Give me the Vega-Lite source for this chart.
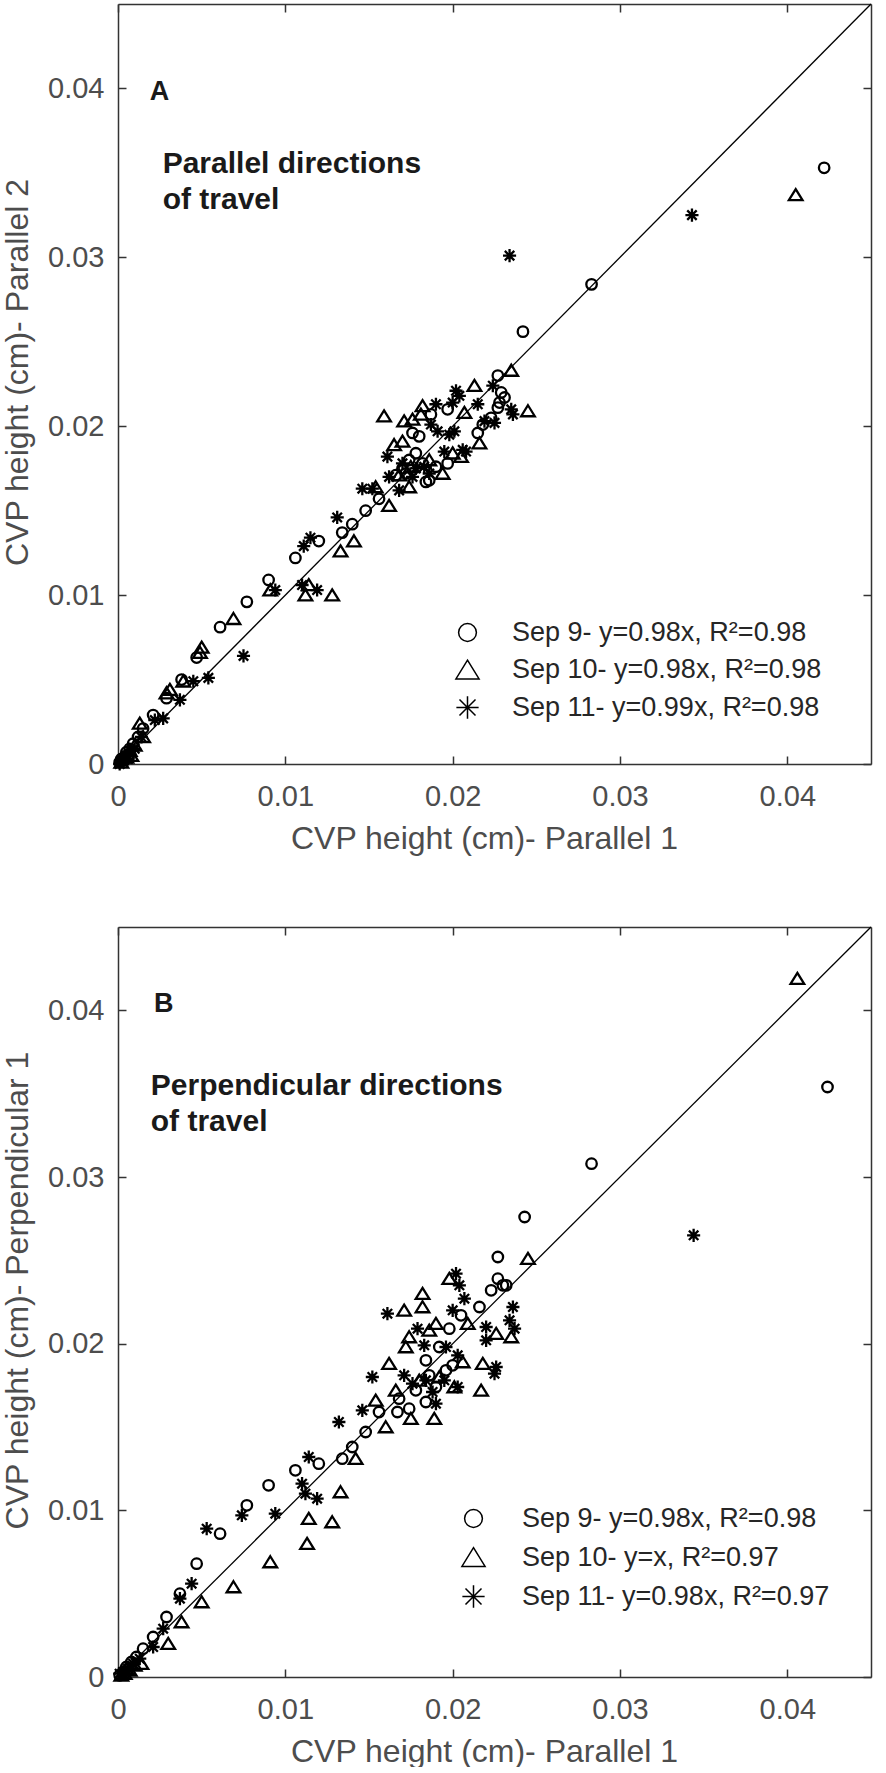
{
  "$schema": "https://vega.github.io/schema/vega-lite/v6.json",
  "padding": {"left": 1, "top": 1, "right": 0, "bottom": 0},
  "spacing": 70,
  "config": {
    "view": {"stroke": null},
    "font": "Liberation Sans",
    "axis": {
      "grid": false,
      "domainColor": "#333333",
      "domainWidth": 1.5,
      "tickColor": "#333333",
      "tickWidth": 1.5,
      "tickSize": -8,
      "labelFont": "Liberation Sans",
      "labelFontSize": 29,
      "labelColor": "#4d4d4d",
      "labelFlush": false,
      "labelOverlap": false,
      "titleFont": "Liberation Sans",
      "titleFontSize": 32,
      "titleFontWeight": "normal",
      "titleColor": "#4d4d4d"
    }
  },
  "datasets": {
    "parA": [
      {"s": "9", "x": 0.0422, "y": 0.0353}, {"s": "9", "x": 0.0283, "y": 0.0284}, {"s": "9", "x": 0.0242, "y": 0.0256},
      {"s": "9", "x": 0.0227, "y": 0.0230}, {"s": "9", "x": 0.0229, "y": 0.0220}, {"s": "9", "x": 0.0231, "y": 0.0217},
      {"s": "9", "x": 0.0228, "y": 0.0214}, {"s": "9", "x": 0.0227, "y": 0.0211}, {"s": "9", "x": 0.0223, "y": 0.0205},
      {"s": "9", "x": 0.0218, "y": 0.0201}, {"s": "9", "x": 0.0215, "y": 0.0196}, {"s": "9", "x": 0.0197, "y": 0.0210},
      {"s": "9", "x": 0.0187, "y": 0.0207}, {"s": "9", "x": 0.0197, "y": 0.0178}, {"s": "9", "x": 0.0184, "y": 0.0167},
      {"s": "9", "x": 0.0186, "y": 0.0168}, {"s": "9", "x": 0.0180, "y": 0.0194}, {"s": "9", "x": 0.0178, "y": 0.0184},
      {"s": "9", "x": 0.0176, "y": 0.0196}, {"s": "9", "x": 0.0166, "y": 0.0171}, {"s": "9", "x": 0.0170, "y": 0.0175},
      {"s": "9", "x": 0.0172, "y": 0.0172}, {"s": "9", "x": 0.0190, "y": 0.0176}, {"s": "9", "x": 0.0156, "y": 0.0157},
      {"s": "9", "x": 0.0148, "y": 0.0150}, {"s": "9", "x": 0.0140, "y": 0.0142}, {"s": "9", "x": 0.0134, "y": 0.0137},
      {"s": "9", "x": 0.0120, "y": 0.0132}, {"s": "9", "x": 0.0106, "y": 0.0122}, {"s": "9", "x": 0.0090, "y": 0.0109},
      {"s": "9", "x": 0.0077, "y": 0.0096}, {"s": "9", "x": 0.0061, "y": 0.0081}, {"s": "9", "x": 0.0047, "y": 0.0063},
      {"s": "9", "x": 0.0038, "y": 0.0050}, {"s": "9", "x": 0.0029, "y": 0.0039}, {"s": "9", "x": 0.0021, "y": 0.0029},
      {"s": "9", "x": 0.0015, "y": 0.0021}, {"s": "9", "x": 0.0012, "y": 0.0016}, {"s": "9", "x": 0.0009, "y": 0.0012},
      {"s": "9", "x": 0.0007, "y": 0.0009}, {"s": "9", "x": 0.0005, "y": 0.0007}, {"s": "9", "x": 0.0004, "y": 0.0004},
      {"s": "9", "x": 0.0002, "y": 0.0003}, {"s": "9", "x": 0.0001, "y": 0.0001}, {"s": "9", "x": 0.0003, "y": 0.0002},
      {"s": "9", "x": 0.0006, "y": 0.0005}, {"s": "9", "x": 0.0182, "y": 0.0178}, {"s": "9", "x": 0.0174, "y": 0.0180},
      {"s": "10", "x": 0.0405, "y": 0.0337}, {"s": "10", "x": 0.0235, "y": 0.0233}, {"s": "10", "x": 0.0245, "y": 0.0209},
      {"s": "10", "x": 0.0213, "y": 0.0224}, {"s": "10", "x": 0.0159, "y": 0.0206}, {"s": "10", "x": 0.0182, "y": 0.0212},
      {"s": "10", "x": 0.0181, "y": 0.0207}, {"s": "10", "x": 0.0171, "y": 0.0203}, {"s": "10", "x": 0.0176, "y": 0.0204},
      {"s": "10", "x": 0.0207, "y": 0.0208}, {"s": "10", "x": 0.0216, "y": 0.0190}, {"s": "10", "x": 0.0170, "y": 0.0191},
      {"s": "10", "x": 0.0165, "y": 0.0189}, {"s": "10", "x": 0.0205, "y": 0.0182}, {"s": "10", "x": 0.0162, "y": 0.0153},
      {"s": "10", "x": 0.0174, "y": 0.0164}, {"s": "10", "x": 0.0154, "y": 0.0164}, {"s": "10", "x": 0.0194, "y": 0.0172},
      {"s": "10", "x": 0.0186, "y": 0.0180}, {"s": "10", "x": 0.0175, "y": 0.0176}, {"s": "10", "x": 0.0168, "y": 0.0171},
      {"s": "10", "x": 0.0200, "y": 0.0184}, {"s": "10", "x": 0.0141, "y": 0.0132}, {"s": "10", "x": 0.0133, "y": 0.0126},
      {"s": "10", "x": 0.0128, "y": 0.0100}, {"s": "10", "x": 0.0112, "y": 0.0100}, {"s": "10", "x": 0.0114, "y": 0.0106},
      {"s": "10", "x": 0.0091, "y": 0.0103}, {"s": "10", "x": 0.0069, "y": 0.0086}, {"s": "10", "x": 0.0050, "y": 0.0069},
      {"s": "10", "x": 0.0049, "y": 0.0066}, {"s": "10", "x": 0.0039, "y": 0.0049}, {"s": "10", "x": 0.0031, "y": 0.0044},
      {"s": "10", "x": 0.0029, "y": 0.0042}, {"s": "10", "x": 0.0013, "y": 0.0024}, {"s": "10", "x": 0.0015, "y": 0.0016},
      {"s": "10", "x": 0.0010, "y": 0.0011}, {"s": "10", "x": 0.0007, "y": 0.0008}, {"s": "10", "x": 0.0005, "y": 0.0004},
      {"s": "10", "x": 0.0003, "y": 0.0004}, {"s": "10", "x": 0.0002, "y": 0.0001}, {"s": "10", "x": 0.0008, "y": 0.0005},
      {"s": "11", "x": 0.0343, "y": 0.0325}, {"s": "11", "x": 0.0234, "y": 0.0301}, {"s": "11", "x": 0.0202, "y": 0.0221},
      {"s": "11", "x": 0.0204, "y": 0.0218}, {"s": "11", "x": 0.0190, "y": 0.0213}, {"s": "11", "x": 0.0200, "y": 0.0214},
      {"s": "11", "x": 0.0215, "y": 0.0213}, {"s": "11", "x": 0.0224, "y": 0.0224}, {"s": "11", "x": 0.0235, "y": 0.0210},
      {"s": "11", "x": 0.0236, "y": 0.0207}, {"s": "11", "x": 0.0225, "y": 0.0202}, {"s": "11", "x": 0.0219, "y": 0.0203},
      {"s": "11", "x": 0.0146, "y": 0.0163}, {"s": "11", "x": 0.0152, "y": 0.0163}, {"s": "11", "x": 0.0161, "y": 0.0182},
      {"s": "11", "x": 0.0191, "y": 0.0197}, {"s": "11", "x": 0.0201, "y": 0.0197}, {"s": "11", "x": 0.0195, "y": 0.0185},
      {"s": "11", "x": 0.0206, "y": 0.0186}, {"s": "11", "x": 0.0168, "y": 0.0162}, {"s": "11", "x": 0.0187, "y": 0.0201},
      {"s": "11", "x": 0.0208, "y": 0.0185}, {"s": "11", "x": 0.0198, "y": 0.0195}, {"s": "11", "x": 0.0170, "y": 0.0178},
      {"s": "11", "x": 0.0178, "y": 0.0175}, {"s": "11", "x": 0.0183, "y": 0.0176}, {"s": "11", "x": 0.0186, "y": 0.0172},
      {"s": "11", "x": 0.0162, "y": 0.0170}, {"s": "11", "x": 0.0131, "y": 0.0146}, {"s": "11", "x": 0.0115, "y": 0.0134},
      {"s": "11", "x": 0.0111, "y": 0.0129}, {"s": "11", "x": 0.0110, "y": 0.0106}, {"s": "11", "x": 0.0119, "y": 0.0103},
      {"s": "11", "x": 0.0094, "y": 0.0103}, {"s": "11", "x": 0.0075, "y": 0.0064}, {"s": "11", "x": 0.0054, "y": 0.0051},
      {"s": "11", "x": 0.0045, "y": 0.0049}, {"s": "11", "x": 0.0037, "y": 0.0038}, {"s": "11", "x": 0.0027, "y": 0.0027},
      {"s": "11", "x": 0.0022, "y": 0.0026}, {"s": "11", "x": 0.0014, "y": 0.0016}, {"s": "11", "x": 0.0010, "y": 0.0009},
      {"s": "11", "x": 0.0007, "y": 0.0006}, {"s": "11", "x": 0.0004, "y": 0.0003}, {"s": "11", "x": 0.0002, "y": 0.0002},
      {"s": "11", "x": 0.0001, "y": 0.0000}, {"s": "11", "x": 0.0006, "y": 0.0003}, {"s": "11", "x": 0.0176, "y": 0.0170}
    ],
    "perB": [
      {"s": "9", "x": 0.0424, "y": 0.0354}, {"s": "9", "x": 0.0283, "y": 0.0308}, {"s": "9", "x": 0.0243, "y": 0.0276},
      {"s": "9", "x": 0.0227, "y": 0.0252}, {"s": "9", "x": 0.0227, "y": 0.0239}, {"s": "9", "x": 0.0230, "y": 0.0235},
      {"s": "9", "x": 0.0232, "y": 0.0235}, {"s": "9", "x": 0.0223, "y": 0.0232}, {"s": "9", "x": 0.0216, "y": 0.0222},
      {"s": "9", "x": 0.0205, "y": 0.0217}, {"s": "9", "x": 0.0198, "y": 0.0209}, {"s": "9", "x": 0.0192, "y": 0.0198},
      {"s": "9", "x": 0.0184, "y": 0.0190}, {"s": "9", "x": 0.0200, "y": 0.0187}, {"s": "9", "x": 0.0196, "y": 0.0184},
      {"s": "9", "x": 0.0190, "y": 0.0174}, {"s": "9", "x": 0.0184, "y": 0.0165}, {"s": "9", "x": 0.0174, "y": 0.0161},
      {"s": "9", "x": 0.0167, "y": 0.0159}, {"s": "9", "x": 0.0156, "y": 0.0159}, {"s": "9", "x": 0.0148, "y": 0.0147},
      {"s": "9", "x": 0.0140, "y": 0.0138}, {"s": "9", "x": 0.0134, "y": 0.0131}, {"s": "9", "x": 0.0120, "y": 0.0128},
      {"s": "9", "x": 0.0106, "y": 0.0124}, {"s": "9", "x": 0.0090, "y": 0.0115}, {"s": "9", "x": 0.0077, "y": 0.0103},
      {"s": "9", "x": 0.0061, "y": 0.0086}, {"s": "9", "x": 0.0047, "y": 0.0068}, {"s": "9", "x": 0.0037, "y": 0.0050},
      {"s": "9", "x": 0.0029, "y": 0.0036}, {"s": "9", "x": 0.0021, "y": 0.0024}, {"s": "9", "x": 0.0015, "y": 0.0017},
      {"s": "9", "x": 0.0011, "y": 0.0012}, {"s": "9", "x": 0.0008, "y": 0.0009}, {"s": "9", "x": 0.0005, "y": 0.0006},
      {"s": "9", "x": 0.0003, "y": 0.0003}, {"s": "9", "x": 0.0001, "y": 0.0001}, {"s": "9", "x": 0.0004, "y": 0.0002},
      {"s": "9", "x": 0.0168, "y": 0.0167}, {"s": "9", "x": 0.0178, "y": 0.0172}, {"s": "9", "x": 0.0186, "y": 0.0181},
      {"s": "10", "x": 0.0406, "y": 0.0419}, {"s": "10", "x": 0.0245, "y": 0.0251}, {"s": "10", "x": 0.0198, "y": 0.0239},
      {"s": "10", "x": 0.0235, "y": 0.0204}, {"s": "10", "x": 0.0226, "y": 0.0206}, {"s": "10", "x": 0.0218, "y": 0.0188},
      {"s": "10", "x": 0.0217, "y": 0.0172}, {"s": "10", "x": 0.0182, "y": 0.0230}, {"s": "10", "x": 0.0182, "y": 0.0222},
      {"s": "10", "x": 0.0171, "y": 0.0220}, {"s": "10", "x": 0.0190, "y": 0.0212}, {"s": "10", "x": 0.0209, "y": 0.0212},
      {"s": "10", "x": 0.0186, "y": 0.0208}, {"s": "10", "x": 0.0174, "y": 0.0204}, {"s": "10", "x": 0.0172, "y": 0.0198},
      {"s": "10", "x": 0.0162, "y": 0.0188}, {"s": "10", "x": 0.0154, "y": 0.0166}, {"s": "10", "x": 0.0160, "y": 0.0150},
      {"s": "10", "x": 0.0175, "y": 0.0155}, {"s": "10", "x": 0.0189, "y": 0.0155}, {"s": "10", "x": 0.0206, "y": 0.0189},
      {"s": "10", "x": 0.0201, "y": 0.0174}, {"s": "10", "x": 0.0166, "y": 0.0172}, {"s": "10", "x": 0.0142, "y": 0.0131},
      {"s": "10", "x": 0.0133, "y": 0.0111}, {"s": "10", "x": 0.0114, "y": 0.0095}, {"s": "10", "x": 0.0128, "y": 0.0093},
      {"s": "10", "x": 0.0113, "y": 0.0080}, {"s": "10", "x": 0.0091, "y": 0.0069}, {"s": "10", "x": 0.0069, "y": 0.0054},
      {"s": "10", "x": 0.0050, "y": 0.0045}, {"s": "10", "x": 0.0038, "y": 0.0033}, {"s": "10", "x": 0.0030, "y": 0.0020},
      {"s": "10", "x": 0.0014, "y": 0.0008}, {"s": "10", "x": 0.0010, "y": 0.0007}, {"s": "10", "x": 0.0007, "y": 0.0004},
      {"s": "10", "x": 0.0004, "y": 0.0002}, {"s": "10", "x": 0.0002, "y": 0.0001}, {"s": "10", "x": 0.0005, "y": 0.0005},
      {"s": "10", "x": 0.0180, "y": 0.0178}, {"s": "10", "x": 0.0192, "y": 0.0180},
      {"s": "11", "x": 0.0344, "y": 0.0265}, {"s": "11", "x": 0.0202, "y": 0.0242}, {"s": "11", "x": 0.0204, "y": 0.0235},
      {"s": "11", "x": 0.0207, "y": 0.0227}, {"s": "11", "x": 0.0161, "y": 0.0218}, {"s": "11", "x": 0.0200, "y": 0.0220},
      {"s": "11", "x": 0.0236, "y": 0.0222}, {"s": "11", "x": 0.0234, "y": 0.0214}, {"s": "11", "x": 0.0237, "y": 0.0209},
      {"s": "11", "x": 0.0220, "y": 0.0210}, {"s": "11", "x": 0.0220, "y": 0.0202}, {"s": "11", "x": 0.0226, "y": 0.0186},
      {"s": "11", "x": 0.0225, "y": 0.0182}, {"s": "11", "x": 0.0179, "y": 0.0209}, {"s": "11", "x": 0.0183, "y": 0.0199},
      {"s": "11", "x": 0.0196, "y": 0.0198}, {"s": "11", "x": 0.0152, "y": 0.0180}, {"s": "11", "x": 0.0146, "y": 0.0160},
      {"s": "11", "x": 0.0132, "y": 0.0153}, {"s": "11", "x": 0.0114, "y": 0.0132}, {"s": "11", "x": 0.0110, "y": 0.0116},
      {"s": "11", "x": 0.0112, "y": 0.0110}, {"s": "11", "x": 0.0119, "y": 0.0107}, {"s": "11", "x": 0.0094, "y": 0.0098},
      {"s": "11", "x": 0.0074, "y": 0.0097}, {"s": "11", "x": 0.0053, "y": 0.0089}, {"s": "11", "x": 0.0044, "y": 0.0056},
      {"s": "11", "x": 0.0037, "y": 0.0047}, {"s": "11", "x": 0.0027, "y": 0.0029}, {"s": "11", "x": 0.0021, "y": 0.0018},
      {"s": "11", "x": 0.0013, "y": 0.0011}, {"s": "11", "x": 0.0009, "y": 0.0008}, {"s": "11", "x": 0.0006, "y": 0.0005},
      {"s": "11", "x": 0.0003, "y": 0.0003}, {"s": "11", "x": 0.0001, "y": 0.0002}, {"s": "11", "x": 0.0188, "y": 0.0171},
      {"s": "11", "x": 0.0190, "y": 0.0164}, {"s": "11", "x": 0.0203, "y": 0.0174}, {"s": "11", "x": 0.0203, "y": 0.0193},
      {"s": "11", "x": 0.0171, "y": 0.0181}, {"s": "11", "x": 0.0176, "y": 0.0176}, {"s": "11", "x": 0.0184, "y": 0.0178},
      {"s": "11", "x": 0.0195, "y": 0.0178}
    ]
  },
  "vconcat": [
    {
      "width": 753,
      "height": 760,
      "layer": [
        {
          "data": {"values": [{"v": 0}, {"v": 0.045}]},
          "mark": {"type": "line", "color": "black", "strokeWidth": 1.3},
          "encoding": {
            "x": {"field": "v", "type": "quantitative", "scale": {"domain": [0, 0.045], "nice": false},
              "axis": {"orient": "bottom", "values": [0, 0.01, 0.02, 0.03, 0.04], "format": "~g", "labelPadding": 26, "titlePadding": 12, "titleX": 366, "title": "CVP height (cm)- Parallel 1"}},
            "y": {"field": "v", "type": "quantitative", "scale": {"domain": [0, 0.045], "nice": false},
              "axis": {"orient": "left", "values": [0, 0.01, 0.02, 0.03, 0.04], "format": "~g", "labelPadding": 22, "titlePadding": 13, "titleY": 368, "title": "CVP height (cm)- Parallel 2"}}
          }
        },
        {
          "data": {"name": "parA"},
          "mark": {"type": "point", "filled": false, "color": "black", "strokeWidth": 2.3, "size": 110, "opacity": 1},
          "encoding": {
            "x": {"field": "x", "type": "quantitative", "scale": {"domain": [0, 0.045], "nice": false},
              "axis": {"orient": "top", "values": [0, 0.01, 0.02, 0.03, 0.04], "labels": false, "title": null}},
            "y": {"field": "y", "type": "quantitative", "scale": {"domain": [0, 0.045], "nice": false},
              "axis": {"orient": "right", "values": [0, 0.01, 0.02, 0.03, 0.04], "labels": false, "title": null}},
            "shape": {
              "field": "s", "type": "nominal",
              "scale": {"domain": ["9", "10", "11"], "range": ["circle", "M0,-1.1L1.3,1L-1.3,1Z", "M0,-1.25L0,1.25M-1.25,0L1.25,0M-0.9,-0.9L0.9,0.9M-0.9,0.9L0.9,-0.9"]},
              "legend": {
                "orient": "none", "legendX": 336, "legendY": 615, "title": null, "padding": 0,
                "labelExpr": "datum.label == '9' ? 'Sep 9- y=0.98x, R²=0.98' : datum.label == '10' ? 'Sep 10- y=0.98x, R²=0.98' : 'Sep 11- y=0.99x, R²=0.98'",
                "labelFont": "Liberation Sans", "labelFontSize": 27, "labelColor": "#262626", "labelOffset": 31, "labelLimit": 500,
                "symbolSize": 317, "symbolStrokeWidth": 1.5, "symbolStrokeColor": "black", "symbolFillColor": "transparent", "rowPadding": 9.5
              }
            }
          }
        },
        {
          "data": {"values": [{"x": 0.0019, "y": 0.0393, "t": "A"}]},
          "mark": {"type": "text", "align": "left", "baseline": "alphabetic", "fontWeight": "bold", "fontSize": 27, "color": "#1a1a1a"},
          "encoding": {
            "x": {"field": "x", "type": "quantitative", "scale": {"domain": [0, 0.045], "nice": false}, "axis": null},
            "y": {"field": "y", "type": "quantitative", "scale": {"domain": [0, 0.045], "nice": false}, "axis": null},
            "text": {"field": "t"}
          }
        },
        {
          "data": {"values": [{"x": 0.00267, "y": 0.0350, "t": "Parallel directions\nof travel"}]},
          "mark": {"type": "text", "align": "left", "baseline": "alphabetic", "fontWeight": "bold", "fontSize": 30, "lineBreak": "\n", "lineHeight": 36, "color": "#1a1a1a"},
          "encoding": {
            "x": {"field": "x", "type": "quantitative", "scale": {"domain": [0, 0.045], "nice": false}, "axis": null},
            "y": {"field": "y", "type": "quantitative", "scale": {"domain": [0, 0.045], "nice": false}, "axis": null},
            "text": {"field": "t"}
          }
        }
      ],
      "resolve": {"axis": {"x": "independent", "y": "independent"}}
    },
    {
      "width": 753,
      "height": 750,
      "layer": [
        {
          "data": {"values": [{"v": 0}, {"v": 0.045}]},
          "mark": {"type": "line", "color": "black", "strokeWidth": 1.3},
          "encoding": {
            "x": {"field": "v", "type": "quantitative", "scale": {"domain": [0, 0.045], "nice": false},
              "axis": {"orient": "bottom", "values": [0, 0.01, 0.02, 0.03, 0.04], "format": "~g", "labelPadding": 26, "titlePadding": 12, "titleX": 366, "title": "CVP height (cm)- Parallel 1"}},
            "y": {"field": "v", "type": "quantitative", "scale": {"domain": [0, 0.045], "nice": false},
              "axis": {"orient": "left", "values": [0, 0.01, 0.02, 0.03, 0.04], "format": "~g", "labelPadding": 22, "titlePadding": 13, "titleY": 363, "title": "CVP height (cm)- Perpendicular 1"}}
          }
        },
        {
          "data": {"name": "perB"},
          "mark": {"type": "point", "filled": false, "color": "black", "strokeWidth": 2.3, "size": 110, "opacity": 1},
          "encoding": {
            "x": {"field": "x", "type": "quantitative", "scale": {"domain": [0, 0.045], "nice": false},
              "axis": {"orient": "top", "values": [0, 0.01, 0.02, 0.03, 0.04], "labels": false, "title": null}},
            "y": {"field": "y", "type": "quantitative", "scale": {"domain": [0, 0.045], "nice": false},
              "axis": {"orient": "right", "values": [0, 0.01, 0.02, 0.03, 0.04], "labels": false, "title": null}},
            "shape": {
              "field": "s", "type": "nominal",
              "scale": {"domain": ["9", "10", "11"], "range": ["circle", "M0,-1.1L1.3,1L-1.3,1Z", "M0,-1.25L0,1.25M-1.25,0L1.25,0M-0.9,-0.9L0.9,0.9M-0.9,0.9L0.9,-0.9"]},
              "legend": {
                "orient": "none", "legendX": 342, "legendY": 578, "title": null, "padding": 0,
                "labelExpr": "datum.label == '9' ? 'Sep 9- y=0.98x, R²=0.98' : datum.label == '10' ? 'Sep 10- y=x, R²=0.97' : 'Sep 11- y=0.98x, R²=0.97'",
                "labelFont": "Liberation Sans", "labelFontSize": 27, "labelColor": "#262626", "labelOffset": 35, "labelLimit": 500,
                "symbolSize": 317, "symbolStrokeWidth": 1.5, "symbolStrokeColor": "black", "symbolFillColor": "transparent", "rowPadding": 11
              }
            }
          }
        },
        {
          "data": {"values": [{"x": 0.00215, "y": 0.0399, "t": "B"}]},
          "mark": {"type": "text", "align": "left", "baseline": "alphabetic", "fontWeight": "bold", "fontSize": 27, "color": "#1a1a1a"},
          "encoding": {
            "x": {"field": "x", "type": "quantitative", "scale": {"domain": [0, 0.045], "nice": false}, "axis": null},
            "y": {"field": "y", "type": "quantitative", "scale": {"domain": [0, 0.045], "nice": false}, "axis": null},
            "text": {"field": "t"}
          }
        },
        {
          "data": {"values": [{"x": 0.00196, "y": 0.0349, "t": "Perpendicular directions\nof travel"}]},
          "mark": {"type": "text", "align": "left", "baseline": "alphabetic", "fontWeight": "bold", "fontSize": 30, "lineBreak": "\n", "lineHeight": 36, "color": "#1a1a1a"},
          "encoding": {
            "x": {"field": "x", "type": "quantitative", "scale": {"domain": [0, 0.045], "nice": false}, "axis": null},
            "y": {"field": "y", "type": "quantitative", "scale": {"domain": [0, 0.045], "nice": false}, "axis": null},
            "text": {"field": "t"}
          }
        }
      ],
      "resolve": {"axis": {"x": "independent", "y": "independent"}}
    }
  ],
  "resolve": {"scale": {"shape": "independent"}, "legend": {"shape": "independent"}}
}
